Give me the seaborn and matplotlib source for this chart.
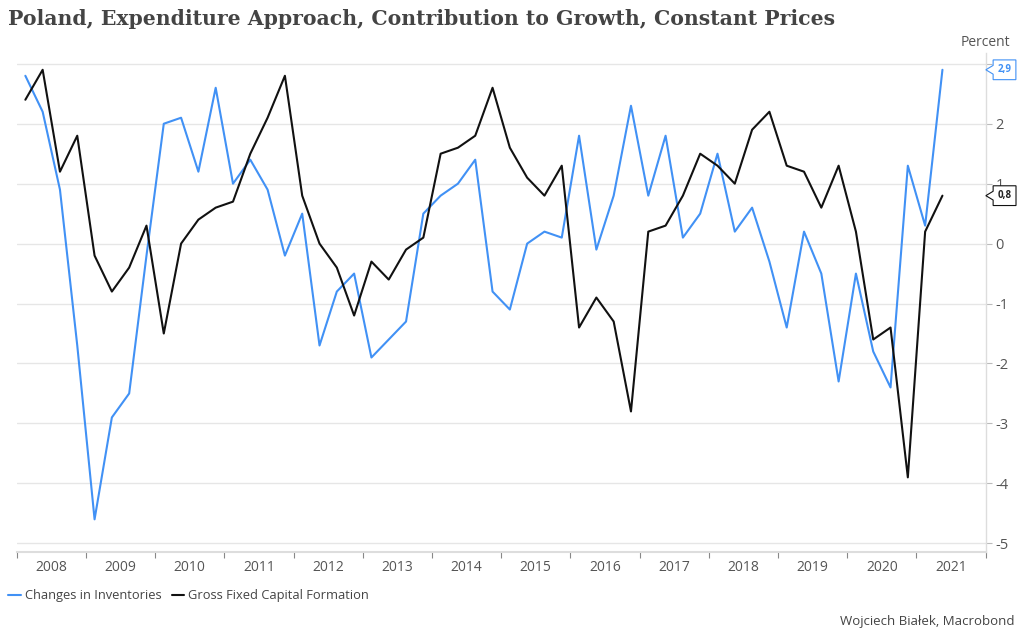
import numpy as np
import pandas as pd
import matplotlib
matplotlib.use("Agg")
import matplotlib.pyplot as plt
from matplotlib.path import Path
import seaborn as sns

title = "Poland, Expenditure Approach, Contribution to Growth, Constant Prices"
series_names = ["Changes in Inventories", "Gross Fixed Capital Formation"]
quarters = pd.period_range("2008Q1", "2021Q2", freq="Q")

inventories = [2.8, 2.2, 0.9, -1.7, -4.6, -2.9, -2.5, -0.2,
               2.0, 2.1, 1.2, 2.6, 1.0, 1.4, 0.9, -0.2,
               0.5, -1.7, -0.8, -0.5, -1.9, -1.6, -1.3, 0.5,
               0.8, 1.0, 1.4, -0.8, -1.1, 0.0, 0.2, 0.1,
               1.8, -0.1, 0.8, 2.3, 0.8, 1.8, 0.1, 0.5,
               1.5, 0.2, 0.6, -0.3, -1.4, 0.2, -0.5, -2.3,
               -0.5, -1.8, -2.4, 1.3, 0.3, 2.9]
gfcf = [2.4, 2.9, 1.2, 1.8, -0.2, -0.8, -0.4, 0.3,
        -1.5, 0.0, 0.4, 0.6, 0.7, 1.5, 2.1, 2.8,
        0.8, 0.0, -0.4, -1.2, -0.3, -0.6, -0.1, 0.1,
        1.5, 1.6, 1.8, 2.6, 1.6, 1.1, 0.8, 1.3,
        -1.4, -0.9, -1.3, -2.8, 0.2, 0.3, 0.8, 1.5,
        1.3, 1.0, 1.9, 2.2, 1.3, 1.2, 0.6, 1.3,
        0.2, -1.6, -1.4, -3.9, 0.2, 0.8]
years = list(range(2008, 2022))
y_ticks = [-5, -4, -3, -2, -1, 0, 1, 2, 3]
y_tick_labels = ["-5", "-4", "-3", "-2", "-1", "0", "1", "2", ""]
last_labels = ["2,9", "0,8"]
colors = ["#4191f5", "#111111"]
label_text_colors = ["#4191f5", "#222222"]

# position of each quarter: middle of the quarter in decimal years
xpos = np.array([q.year + (q.quarter - 1) / 4 + 0.125 for q in quarters])
df = pd.DataFrame({
    "x": np.concatenate([xpos, xpos]),
    "value": inventories + gfcf,
    "series": [series_names[0]] * len(xpos) + [series_names[1]] * len(xpos),
})

sns.set_theme(style="white")
plt.rcParams["font.family"] = ["Open Sans", "DejaVu Sans"]

fig = plt.figure(figsize=(10.24, 6.4), dpi=100)
ax = fig.add_axes([16.7 / 1024, 1 - 551.7 / 640, (985.7 - 16.7) / 1024, (551.7 - 53) / 640])

sns.lineplot(data=df, x="x", y="value", hue="series", palette=colors,
             linewidth=1.5, ax=ax, legend=False)

ax.set_xlim(2008, 2022)
ax.set_ylim(-5.14, 3.18)
ax.set_xlabel("")
ax.set_ylabel("")

# y axis on the right
ax.yaxis.tick_right()
ax.set_yticks(y_ticks)
ax.set_yticklabels(y_tick_labels)
ax.tick_params(axis="y", which="major", right=True, length=4, width=0.8,
               color="#bbbbbb", labelsize=10.5, labelcolor="#555555", pad=3)
ax.grid(axis="y", color="#e6e6e6", linewidth=1)
ax.grid(axis="x", visible=False)

# x axis: ticks at year boundaries, labels in the middle
ax.set_xticks(list(range(2008, 2023)))
ax.set_xticklabels([])
ax.set_xticks([y + 0.5 for y in years], minor=True)
ax.set_xticklabels([str(y) for y in years], minor=True)
ax.tick_params(axis="x", which="major", bottom=True, length=4, width=0.8,
               color="#888888")
ax.tick_params(axis="x", which="minor", bottom=False, length=0,
               labelsize=10, labelcolor="#555555", pad=6)

for s in ["left", "top"]:
    ax.spines[s].set_visible(False)
ax.spines["right"].set_color("#dddddd")
ax.spines["bottom"].set_color("#dddddd")
ax.spines["right"].set_linewidth(1)
ax.spines["bottom"].set_linewidth(1.5)


def notch_box(x0, y0, width, height, mutation_size):
    pad = 0.45 * mutation_size
    x0, y0 = x0 - pad, y0 - pad
    x1, y1 = x0 + width + 2 * pad, y0 + height + 2 * pad
    cy = (y0 + y1) / 2
    a = 0.45 * mutation_size
    tip = 0.75 * mutation_size
    verts = [(x0, y0), (x1, y0), (x1, y1), (x0, y1), (x0, cy + a),
             (x0 - tip, cy), (x0, cy - a), (x0, y0)]
    return Path(verts, closed=True)


# last value labels
for vals, lab, col, tcol in zip([inventories, gfcf], last_labels, colors, label_text_colors):
    ax.annotate(lab, xy=(1.0, vals[-1]), xycoords=("axes fraction", "data"),
                xytext=(8.5, 0), textcoords="offset points",
                ha="left", va="center", fontsize=7, fontweight="bold",
                color=tcol,
                bbox=dict(boxstyle=notch_box, fc="white", ec=col, lw=0.8),
                zorder=10, annotation_clip=False)

fig.text(985 / 1024, 1 - 43 / 640, "Percent", ha="center", va="center",
         fontsize=10, color="#555555")

fig.text(8 / 1024, 1 - 19 / 640, title, ha="left", va="center",
         fontsize=14.7, fontweight="bold", color="#444444",
         family=["DejaVu Serif"])

handles = [plt.Line2D([], [], color=c, lw=1.5) for c in colors]
fig.legend(handles, series_names, loc="center left",
           bbox_to_anchor=(0.0, 1 - 596 / 640), frameon=False, ncol=2,
           handlelength=1.0, handletextpad=0.3, columnspacing=0.8,
           fontsize=9.3, labelcolor="#444444", borderaxespad=0.2)

fig.text(1014 / 1024, 1 - 621 / 640, "Wojciech Białek, Macrobond", ha="right",
         va="center", fontsize=9.5, color="#444444")

fig.savefig("out.png", dpi=100)
